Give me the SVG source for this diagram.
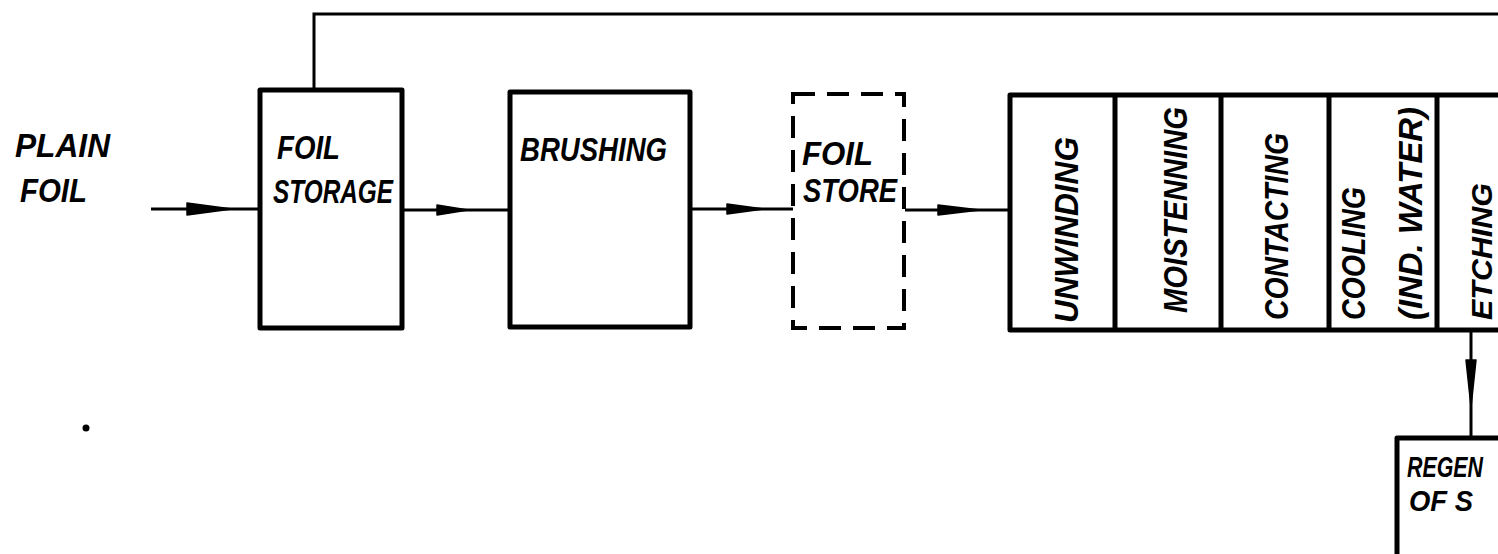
<svg xmlns="http://www.w3.org/2000/svg" width="1498" height="554" viewBox="0 0 1498 554">
<style>
.box{fill:#fff;stroke:#000;stroke-width:5;stroke-linejoin:round}
.dash{fill:#fff;stroke:#000;stroke-width:4;stroke-dasharray:22 12}
.div{stroke:#000;stroke-width:5}
.ln{fill:none;stroke:#000;stroke-width:3}
.ah{fill:#000;stroke:#000;stroke-width:1.5;stroke-linejoin:round}
.t{font-family:"Liberation Sans",Arial,sans-serif;font-style:italic;font-weight:bold;font-size:33px;fill:#000}
.s{font-size:29px}
</style>
<g id="connectors">
  <path class="ln" d="M151,209 H260"/>
  <polygon class="ah" points="187,203 232,209 187,215"/>
  <path class="ln" d="M402,210 H510"/>
  <polygon class="ah" points="437,205 468,210 437,215"/>
  <path class="ln" d="M690,209 H793"/>
  <polygon class="ah" points="727,204 764,209 727,214"/>
  <path class="ln" d="M905,210 H1010"/>
  <polygon class="ah" points="938,205 980,210 938,215"/>
  <path class="ln" d="M314,90 V14 H1498"/>
  <path class="ln" d="M1471,330 V438"/>
  <polygon class="ah" points="1466,360 1471,407 1476,360"/>
</g>
<g id="input">
  <text class="t" x="15" y="157" textLength="95" lengthAdjust="spacingAndGlyphs">PLAIN</text>
  <text class="t" x="20" y="202" textLength="67" lengthAdjust="spacingAndGlyphs">FOIL</text>
  <circle cx="86" cy="428" r="3.5"/>
</g>
<g id="foil-storage">
  <rect class="box" x="260" y="90" width="142" height="238"/>
  <text class="t" x="277" y="159" textLength="63" lengthAdjust="spacingAndGlyphs">FOIL</text>
  <text class="t" x="273" y="203" textLength="120" lengthAdjust="spacingAndGlyphs">STORAGE</text>
</g>
<g id="brushing">
  <rect class="box" x="510" y="92" width="180" height="235"/>
  <text class="t" x="520" y="161" textLength="147" lengthAdjust="spacingAndGlyphs">BRUSHING</text>
</g>
<g id="foil-store">
  <rect class="dash" x="793" y="94" width="111" height="234"/>
  <text class="t" x="802" y="165" textLength="71" lengthAdjust="spacingAndGlyphs">FOIL</text>
  <text class="t" x="803" y="202" textLength="94" lengthAdjust="spacingAndGlyphs">STORE</text>
</g>
<g id="process-line">
  <rect class="box" x="1010" y="95" width="500" height="235"/>
  <line class="div" x1="1115" y1="95" x2="1115" y2="330"/>
  <line class="div" x1="1221" y1="95" x2="1221" y2="330"/>
  <line class="div" x1="1329" y1="95" x2="1329" y2="330"/>
  <line class="div" x1="1437" y1="95" x2="1437" y2="330"/>
  <text class="t" transform="translate(1078,323) rotate(-90)" textLength="186" lengthAdjust="spacingAndGlyphs">UNWINDING</text>
  <text class="t" transform="translate(1187,313) rotate(-90)" textLength="206" lengthAdjust="spacingAndGlyphs">MOISTENNING</text>
  <text class="t" transform="translate(1288,320) rotate(-90)" textLength="187" lengthAdjust="spacingAndGlyphs">CONTACTING</text>
  <text class="t" transform="translate(1365,320) rotate(-90)" textLength="133" lengthAdjust="spacingAndGlyphs">COOLING</text>
  <text class="t" transform="translate(1422,320) rotate(-90)" textLength="213" lengthAdjust="spacingAndGlyphs">(IND. WATER)</text>
  <text class="t s" transform="translate(1492,320) rotate(-90)" textLength="137" lengthAdjust="spacingAndGlyphs">ETCHING</text>
</g>
<g id="regeneration">
  <rect class="box" x="1397" y="438" width="120" height="130"/>
  <text class="t s" x="1407" y="477" textLength="76" lengthAdjust="spacingAndGlyphs">REGEN</text>
  <text class="t s" x="1409" y="511" textLength="64" lengthAdjust="spacingAndGlyphs">OF S</text>
</g>
</svg>
